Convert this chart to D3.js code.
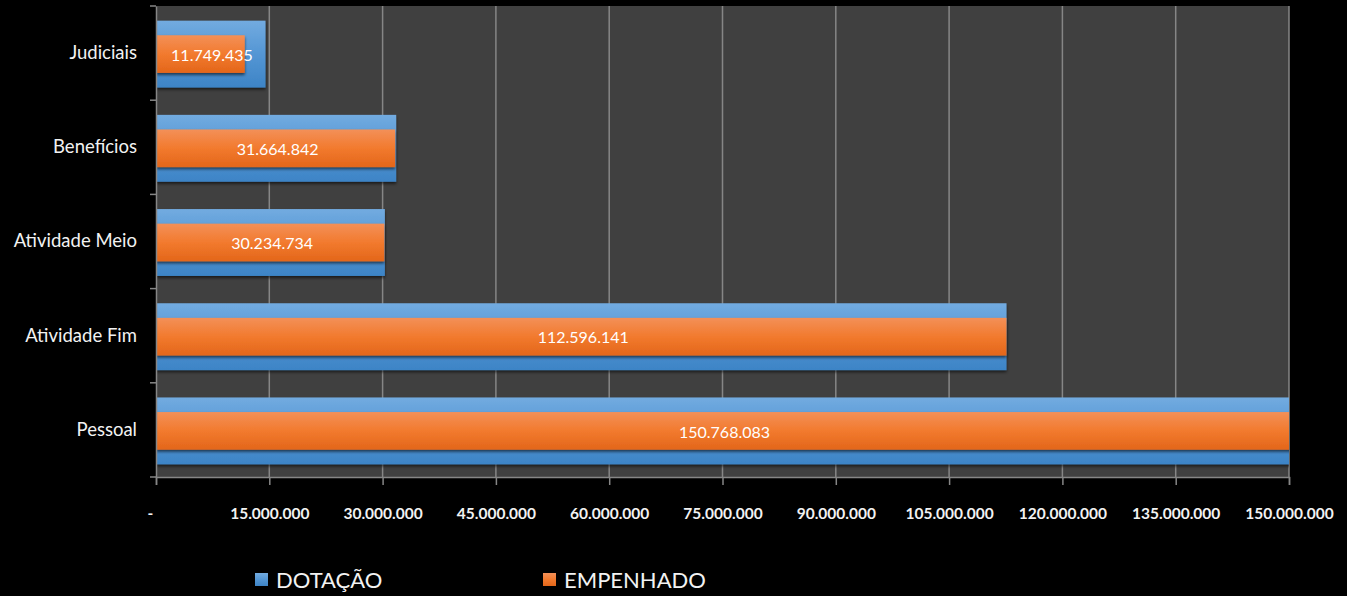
<!DOCTYPE html>
<html>
<head>
<meta charset="utf-8">
<script src="https://cdn.jsdelivr.net/npm/d3@7"></script>
<style>
  html, body { margin: 0; padding: 0; background: #000; }
  svg { display: block; }
  text { font-family: Lato, "Open Sans", sans-serif; }
</style>
</head>
<body>
<svg id="chart"></svg>
<script>
var categories = ['Judiciais', 'Benefícios', 'Atividade Meio', 'Atividade Fim', 'Pessoal'];
var dotacao = [14500000, 31800000, 30300000, 112600000, 156000000];
var empenhado = [11749435, 31664842, 30234734, 112596141, 150768083];
var labels = ['11.749.435', '31.664.842', '30.234.734', '112.596.141', '150.768.083'];
var xTicks = [0, 15000000, 30000000, 45000000, 60000000, 75000000, 90000000, 105000000, 120000000, 135000000, 150000000];
var seriesNames = ['DOTAÇÃO', 'EMPENHADO'];

var W = 1347, H = 596;
var margin = { top: 6, right: 58, bottom: 119, left: 156 },
    width = W - margin.left - margin.right,
    height = H - margin.top - margin.bottom;

var svg = d3.select('#chart').attr('width', W).attr('height', H);
var defs = svg.append('defs');

var gb = defs.append('linearGradient').attr('id', 'gBlue').attr('x1', 0).attr('x2', 0).attr('y1', 0).attr('y2', 1);
gb.append('stop').attr('offset', '0%').attr('stop-color', '#72abe0');
gb.append('stop').attr('offset', '50%').attr('stop-color', '#5496d4');
gb.append('stop').attr('offset', '100%').attr('stop-color', '#3d84c6');

var go = defs.append('linearGradient').attr('id', 'gOrange').attr('x1', 0).attr('x2', 0).attr('y1', 0).attr('y2', 1);
go.append('stop').attr('offset', '0%').attr('stop-color', '#f39058');
go.append('stop').attr('offset', '50%').attr('stop-color', '#f27a2e');
go.append('stop').attr('offset', '100%').attr('stop-color', '#e3661a');

var shadow = defs.append('filter').attr('id', 'shadow').attr('x', '-5%').attr('y', '-20%').attr('width', '110%').attr('height', '160%');
shadow.append('feDropShadow').attr('dx', 0).attr('dy', 2).attr('stdDeviation', 1.5)
  .attr('flood-color', '#000').attr('flood-opacity', 0.6);

defs.append('clipPath').attr('id', 'plotClip')
  .append('rect').attr('x', 0).attr('y', 0).attr('width', width).attr('height', height + 4);

var g = svg.append('g').attr('transform', 'translate(' + margin.left + ',' + margin.top + ')');

var x = d3.scaleLinear().domain([0, 150000000]).range([0, width]);
var y = d3.scaleBand().domain(categories).range([0, height]).padding(0);

g.append('rect').attr('width', width).attr('height', height).attr('fill', '#404040');

// grid
g.append('g').selectAll('line').data(xTicks.slice(1)).enter().append('line')
  .attr('x1', d => x(d)).attr('x2', d => x(d))
  .attr('y1', 0).attr('y2', height)
  .attr('stroke', '#868686').attr('stroke-width', 1.5);

var bars = g.append('g').attr('clip-path', 'url(#plotClip)');

var blueH = y.bandwidth() * 0.71, orangeH = y.bandwidth() * 0.4;

bars.selectAll('.blue').data(categories).enter().append('rect')
  .attr('class', 'blue')
  .attr('x', 0)
  .attr('y', d => y(d) + y.bandwidth() / 2 - blueH / 2 + 1)
  .attr('width', (d, i) => x(dotacao[i]))
  .attr('height', blueH)
  .attr('fill', 'url(#gBlue)')
  .attr('filter', 'url(#shadow)');

bars.selectAll('.orange').data(categories).enter().append('rect')
  .attr('class', 'orange')
  .attr('x', 0)
  .attr('y', d => y(d) + y.bandwidth() / 2 - orangeH / 2 + 1)
  .attr('width', (d, i) => x(empenhado[i]))
  .attr('height', orangeH)
  .attr('fill', 'url(#gOrange)')
  .attr('filter', 'url(#shadow)');

g.append('g').selectAll('text').data(categories).enter().append('text')
  .attr('x', (d, i) => Math.max(Math.min(x(empenhado[i]), width) / 2 + 2, 56))
  .attr('y', d => y(d) + y.bandwidth() / 2 + 2)
  .attr('dy', '0.35em')
  .attr('text-anchor', 'middle')
  .attr('fill', '#fff')
  .style('font-size', '16px')
  .text((d, i) => labels[i]);

// axes
var xAxis = g.append('g').attr('transform', 'translate(0,' + height + ')')
  .call(d3.axisBottom(x).tickValues(xTicks).tickSize(8).tickPadding(23)
    .tickFormat(d => d === 0 ? '-' : d3.format(',')(d).replace(/,/g, '.')));
xAxis.select('.domain').attr('stroke', '#868686').attr('stroke-width', 1.5);
xAxis.selectAll('.tick line').attr('stroke', '#868686').attr('stroke-width', 1.5);
xAxis.selectAll('.tick text').attr('fill', '#f2f2f2')
  .style('font-size', '15.5px').style('font-weight', 'bold').style('font-family', 'Lato, sans-serif');
xAxis.selectAll('.tick').filter(d => d === 0).select('text').attr('dx', '-6');

var yAxis = g.append('g')
  .call(d3.axisLeft(y).tickSize(0).tickPadding(19));
yAxis.select('.domain').attr('stroke', '#868686').attr('stroke-width', 1.5);
yAxis.selectAll('.tick text').attr('fill', '#f2f2f2')
  .style('font-size', '18.5px').style('font-family', 'Lato, sans-serif');

// category separators
g.append('g').selectAll('line').data(categories.concat(['end'])).enter().append('line')
  .attr('x1', -6).attr('x2', 0)
  .attr('y1', (d, i) => i * y.bandwidth()).attr('y2', (d, i) => i * y.bandwidth())
  .attr('stroke', '#868686').attr('stroke-width', 1.5);

// legend
var legendX = [255, 543];
var legendFill = ['url(#gBlue)', 'url(#gOrange)'];
var lg = svg.append('g');
seriesNames.forEach(function (name, i) {
  lg.append('rect').attr('x', legendX[i]).attr('y', 573).attr('width', 13).attr('height', 13)
    .attr('fill', legendFill[i]);
  lg.append('text').attr('x', legendX[i] + 21).attr('y', 588)
    .attr('fill', '#f2f2f2').style('font-size', '22px').text(name);
});
</script>
</body>
</html>
